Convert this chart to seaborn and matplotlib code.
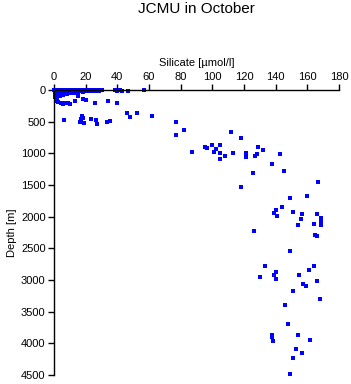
import matplotlib
matplotlib.use('Agg')
import matplotlib.pyplot as plt
import seaborn as sns
import pandas as pd

sns.set_style('ticks')
plt.rcParams['font.family'] = ['Liberation Sans', 'DejaVu Sans']
plt.rcParams['text.color'] = 'black'
plt.rcParams['axes.labelcolor'] = 'black'
plt.rcParams['xtick.color'] = 'black'
plt.rcParams['ytick.color'] = 'black'

# surface layer samples (0-160 m)
surf_si = [0.3, 0.5, 0.8, 1.0, 1.2, 1.5, 1.8, 2.0, 2.2, 2.5, 2.8, 3.0, 3.3, 3.6,
           4.0, 4.3, 4.6, 5.0, 5.3, 5.7, 6.0, 6.5, 7.0, 7.5, 8.0, 8.5, 9.0, 9.5,
           10, 10.5, 11, 12, 12.5, 13, 14, 15, 16, 17, 18, 19, 20, 21, 22, 23,
           25, 26, 28, 30, 0.5, 1.0, 2.0, 1.5, 38.5, 40, 41.5, 43, 46.7, 56.8,
           24.6, 28.4, 18, 20.8]
surf_depth = [0, 20, 40, 60, 10, 80, 30, 0, 50, 100, 15, 70, 0, 40,
              90, 10, 60, 0, 30, 80, 15, 50, 0, 30, 10, 60, 0, 20,
              40, 5, 0, 20, 55, 0, 10, 30, 0, 15, 5, 0, 10, 0, 20, 5,
              0, 10, 5, 0, 110, 140, 130, 160, 5, 10, 0, 8, 16, 0,
              16, 16, 30, 15]

# intermediate samples (~150-550 m)
mid_si = [2.5, 4.4, 6.9, 8.8, 10.1, 13.3, 15.2, 18.3, 20.2, 25.9, 34.1, 39.8,
          1.9, 5.7, 46.1, 48.0, 52.4, 61.9, 6.3, 16.4, 17.7, 18.3, 18.9, 23.4,
          26.5, 27.2, 33.5, 35.4, 17.1]
mid_depth = [190, 205, 205, 205, 220, 175, 95, 140, 160, 205, 175, 205,
             175, 220, 363, 426, 363, 410, 474, 505, 410, 442, 521, 458,
             474, 537, 505, 490, 458]

# deep samples
deep_si = [77.0, 82.1, 77.0, 87.2, 95.4, 96.6, 99.8, 102.3, 101.1, 104.8, 104.8,
           104.8, 108.0, 111.8, 113.1, 118.1, 121.3, 121.3, 126.9, 128.2, 128.8,
           132.0, 137.7, 142.7, 145.3, 125.7, 118.1, 166.7, 149.1, 159.8, 140.2,
           139.0, 144.0, 140.8, 151.0, 156.6, 166.1, 168.6, 156.0, 168.6, 154.1,
           164.2, 168.6, 126.3, 164.8, 166.1, 149.1, 133.3, 164.2, 161.0, 140.2,
           139.0, 130.1, 140.2, 154.7, 166.1, 157.3, 159.2, 151.0, 168.0, 145.9,
           147.8, 137.7, 137.7, 154.1, 138.3, 161.7, 152.8, 156.6, 151.0, 149.1]
deep_depth = [505, 632, 711, 979, 900, 916, 868, 932, 979, 868, 995,
              1090, 1042, 663, 995, 758, 995, 1058, 1042, 1011, 900,
              947, 1168, 1011, 1279, 1311, 1532, 1453, 1705, 1674, 1895,
              1942, 1847, 1990, 1926, 1958, 1958, 2021, 2037, 2068, 2132,
              2116, 2132, 2226, 2289, 2305, 2542, 2779, 2779, 2842, 2874,
              2921, 2953, 2984, 2921, 3016, 3063, 3095, 3174, 3300, 3395,
              3695, 3868, 3900, 3868, 3963, 3947, 4090, 4153, 4232, 4484]

df = pd.DataFrame({'silicate': surf_si + mid_si + deep_si,
                   'depth': surf_depth + mid_depth + deep_depth})

W, H = 351, 384
fig = plt.figure(figsize=(W / 100, H / 100), dpi=100)
ax = fig.add_axes([54 / W, 1 - 375 / H, 285 / W, 285 / H])

sns.scatterplot(data=df, x='silicate', y='depth', marker='s', color='#0000ff',
                s=7, linewidth=0, ax=ax, clip_on=False)

ax.set_xlim(0, 180)
ax.set_ylim(4500, 0)
ax.set_xticks(range(0, 181, 20))
ax.set_yticks(range(0, 4501, 500))
ax.xaxis.tick_top()
ax.xaxis.set_label_position('top')
ax.set_xlabel('Silicate [\u00b5mol/l]', fontsize=8, labelpad=4)
ax.set_ylabel('Depth [m]', fontsize=8, labelpad=3)
ax.tick_params(axis='both', labelsize=8, length=4, width=1, color='black',
               pad=2)
for side in ['right', 'bottom']:
    ax.spines[side].set_visible(False)
for side in ['left', 'top']:
    ax.spines[side].set_color('black')
    ax.spines[side].set_linewidth(1)

fig.text(196 / W, 1 - 9 / H, 'JCMU in October', ha='center', va='center',
         fontsize=11)

fig.savefig('out.png', dpi=100, facecolor='white')
